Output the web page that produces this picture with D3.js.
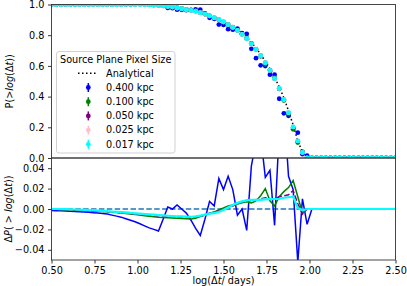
<!DOCTYPE html>
<html><head><meta charset="utf-8">
<script src="https://cdn.jsdelivr.net/npm/d3@7"></script>
<style>
html,body{margin:0;padding:0;background:#fff;}
svg{display:block;font-family:"DejaVu Sans",sans-serif;}
</style></head>
<body>
<svg id="chart" width="407" height="286"></svg>
<script>
// log(Δt/days) bin centres
const xs = [0.500,0.527,0.554,0.581,0.608,0.635,0.662,0.689,0.716,0.743,0.770,0.797,0.824,0.851,0.878,0.905,0.932,0.959,0.986,1.014,
1.041,1.068,1.095,1.122,1.149,1.176,1.203,1.230,1.257,1.284,1.311,1.338,1.365,1.392,1.419,1.446,1.473,1.500,1.527,1.554,
1.581,1.608,1.635,1.662,1.689,1.716,1.743,1.770,1.797,1.824,1.851,1.878,1.905,1.932,1.959,1.986,2.014,2.041,2.068,2.095,
2.122,2.149,2.176,2.203,2.230,2.257,2.284,2.311,2.338,2.365,2.392,2.419,2.446,2.473,2.500];

// Analytical P(>log Δt)
const analytical = [1.000,1.000,0.9999,0.9998,0.9997,0.9995,0.9994,0.9992,0.999,0.9988,
0.9985,0.9982,0.9979,0.9975,0.9972,0.997,0.9966,0.9962,0.9958,0.9954,
0.995,0.993,0.990,0.988,0.985,0.980,0.976,0.970,0.965,0.959,
0.954,0.949,0.940,0.932,0.921,0.910,0.899,0.886,0.871,0.855,
0.837,0.813,0.787,0.753,0.717,0.676,0.630,0.581,0.527,0.463,
0.392,0.307,0.215,0.113,0.035,0,0,0,0,0,
0,0,0,0,0,0,0,0,0,0,0,0,0,0,0];

// ΔP = analytical − measured, per source-plane pixel size
const dP_400 = [-0.0015,-0.0016,-0.0018,-0.002,-0.0022,-0.0025,-0.0028,-0.003,-0.0033,-0.0037,
-0.004,-0.0045,-0.005,-0.006,-0.007,-0.008,-0.0095,-0.011,-0.0125,-0.0145,
-0.0165,-0.0185,-0.020,-0.0216,-0.010,0.002,0.000,0.004,0.000,-0.004,
-0.011,-0.019,-0.026,-0.010,0.0075,0.003,0.030,0.019,0.032,0.019,
-0.006,0.000,-0.021,0.042,0.067,0.072,0.031,0.038,-0.016,0.077,
0.101,0.032,0.019,-0.052,0.010,-0.015,0,0,0,0,
0,0,0,0,0,0,0,0,0,0,0,0,0,0,0];
const dP_100 = [0,-0.0003,-0.0005,-0.0007,-0.001,-0.0012,-0.0014,-0.0016,-0.0018,-0.002,
-0.0022,-0.0025,-0.0028,-0.0031,-0.0035,-0.004,-0.0045,-0.005,-0.0055,-0.006,
-0.0065,-0.007,-0.0075,-0.008,-0.0083,-0.0085,-0.0088,-0.009,-0.0093,-0.0095,
-0.0098,-0.009,-0.0075,-0.006,-0.0045,-0.003,-0.001,0.001,0.003,0.004,
0.005,0.006,0.007,0.006,0.008,0.013,0.020,0.008,0.003,0.012,
0.017,0.021,0.028,0.012,-0.004,0,0,0,0,0,
0,0,0,0,0,0,0,0,0,0,0,0,0,0,0];
const dP_050 = [0,-0.0002,-0.0004,-0.0006,-0.0008,-0.001,-0.0012,-0.0014,-0.0016,-0.0018,
-0.002,-0.0023,-0.0026,-0.003,-0.0033,-0.0037,-0.0041,-0.0045,-0.005,-0.0055,
-0.0058,-0.006,-0.0063,-0.0066,-0.007,-0.0072,-0.0074,-0.0076,-0.0078,-0.008,
-0.0083,-0.008,-0.007,-0.006,-0.004,-0.003,-0.002,0.000,0.002,0.003,
0.005,0.007,0.0085,0.008,0.009,0.010,0.011,0.010,0.010,0.012,
0.013,0.014,0.018,0.005,-0.005,0,0,0,0,0,
0,0,0,0,0,0,0,0,0,0,0,0,0,0,0];
const dP_025 = [0,0,-0.0002,-0.0003,-0.0004,-0.0006,-0.0007,-0.0009,-0.0011,-0.0013,
-0.0016,-0.0019,-0.0022,-0.0026,-0.0029,-0.0032,-0.0036,-0.004,-0.0044,-0.0048,
-0.0052,-0.0055,-0.0058,-0.0061,-0.0064,-0.0067,-0.007,-0.0072,-0.0074,-0.0076,
-0.0077,-0.0073,-0.0066,-0.0056,-0.0046,-0.004,-0.0028,-0.0008,0.0017,0.0042,
0.0062,0.0077,0.0087,0.0091,0.0092,0.0093,0.0098,0.0099,0.0099,0.0102,
0.0112,0.0118,0.0125,0.0015,-0.0015,0,0,0,0,0,
0,0,0,0,0,0,0,0,0,0,0,0,0,0,0];
const dP_017 = [0,0,-0.0001,-0.0002,-0.0003,-0.0005,-0.0006,-0.0008,-0.001,-0.0012,
-0.0015,-0.0018,-0.0021,-0.0025,-0.0028,-0.003,-0.0034,-0.0038,-0.0042,-0.0046,
-0.005,-0.0053,-0.0056,-0.006,-0.0063,-0.0066,-0.0069,-0.0071,-0.0073,-0.0075,
-0.0076,-0.0072,-0.0065,-0.0055,-0.0045,-0.004,-0.003,-0.001,0.0015,0.004,
0.006,0.0075,0.0085,0.009,0.009,0.009,0.0095,0.0097,0.0098,0.010,
0.011,0.0115,0.012,0.001,-0.001,0,0,0,0,0,
0,0,0,0,0,0,0,0,0,0,0,0,0,0,0];

const seriesNames = ["0.400 kpc","0.100 kpc","0.050 kpc","0.025 kpc","0.017 kpc"];
const seriesColors = ["#0000ff","#008000","#800080","#ffc0cb","#00ffff"];
const seriesDash = [null,null,"5.5,2.4","5.5,2.4",null];
const seriesWidth = [1.5,1.5,1.5,1.5,2.2];
const seriesDP = [dP_400,dP_100,dP_050,dP_025,dP_017];

const xTicks = [0.50,0.75,1.00,1.25,1.50,1.75,2.00,2.25,2.50];
const yTopTicks = [0.0,0.2,0.4,0.6,0.8,1.0];
const yBotTicks = [-0.04,-0.02,0.00,0.02,0.04];

const svg = d3.select("#chart");
const L=51.5, R=395.5, T1=4.5, B1=158, T2=158, B2=260;
const x = d3.scaleLinear().domain([0.5,2.5]).range([L,R]);
const yT = d3.scaleLinear().domain([0,1]).range([B1,T1]);
const yB = d3.scaleLinear().domain([-0.05,0.05]).range([B2,T2]);
const fmtMinus = s => s.replace("-","\u2212");

const defs = svg.append("defs");
defs.append("clipPath").attr("id","cTop").append("rect").attr("x",L).attr("y",T1).attr("width",R-L).attr("height",B1-T1);
defs.append("clipPath").attr("id","cBot").append("rect").attr("x",L).attr("y",T2).attr("width",R-L).attr("height",B2-T2);

// ---------- top panel ----------
const gT = svg.append("g").attr("clip-path","url(#cTop)");
const pts = xs.map((v,i)=>({x:v,a:analytical[i]}));
gT.append("path").datum(pts)
  .attr("d", d3.line().x(d=>x(d.x)).y(d=>yT(d.a)))
  .attr("fill","none").attr("stroke","#000").attr("stroke-width",1.5).attr("stroke-dasharray","1.5,2.5");
seriesDP.forEach((dp,k)=>{
  gT.append("g").selectAll("circle").data(xs.map((v,i)=>({x:v,p:analytical[i]-dp[i]})))
    .join("circle").attr("cx",d=>x(d.x)).attr("cy",d=>yT(d.p)).attr("r",2.4)
    .attr("fill",seriesColors[k]);
});

// ---------- bottom panel ----------
const gB = svg.append("g").attr("clip-path","url(#cBot)");
gB.append("line").attr("x1",L).attr("x2",R).attr("y1",yB(0)).attr("y2",yB(0))
  .attr("stroke","#1f77b4").attr("stroke-width",1.5).attr("stroke-dasharray","5.5,2.4");
seriesDP.forEach((dp,k)=>{
  const p = gB.append("path").datum(xs.map((v,i)=>({x:v,d:dp[i]})))
    .attr("d", d3.line().x(d=>x(d.x)).y(d=>yB(d.d)))
    .attr("fill","none").attr("stroke",seriesColors[k]).attr("stroke-width",seriesWidth[k])
    .attr("stroke-linejoin","miter");
  if(seriesDash[k]) p.attr("stroke-dasharray",seriesDash[k]);
});

// ---------- axes ----------
const axStyle = g => {
  g.selectAll(".domain").remove();
  g.selectAll(".tick line").attr("stroke","#000").attr("stroke-width",0.8);
  g.selectAll(".tick text").attr("fill","#000").style("font-size","9.7px").style("font-family","'DejaVu Sans',sans-serif");
};
svg.append("g").attr("transform",`translate(0,${B2})`)
  .call(d3.axisBottom(x).tickValues(xTicks).tickFormat(d3.format(".2f")).tickSize(3.5).tickPadding(3.5))
  .call(axStyle);
svg.append("g").attr("transform",`translate(${L},0)`)
  .call(d3.axisLeft(yT).tickValues(yTopTicks).tickFormat(d3.format(".1f")).tickSize(3.5).tickPadding(3.5))
  .call(axStyle);
svg.append("g").attr("transform",`translate(${L},0)`)
  .call(d3.axisLeft(yB).tickValues(yBotTicks).tickFormat(d=>fmtMinus(d3.format(".2f")(d))).tickSize(3.5).tickPadding(3.5))
  .call(axStyle);

// spines
const sp = svg.append("g").attr("fill","none").attr("stroke","#333").attr("stroke-width",0.9);
sp.append("rect").attr("x",L).attr("y",T1).attr("width",R-L).attr("height",B1-T1);
sp.append("rect").attr("x",L).attr("y",T2).attr("width",R-L).attr("height",B2-T2);

// axis labels
const fs = "9.7px";
const lab1 = svg.append("text").attr("transform",`translate(9,${(T1+B1)/2}) rotate(-90)`)
  .attr("text-anchor","middle").attr("dominant-baseline","central").style("font-size",fs);
lab1.append("tspan").text("P(>");
lab1.append("tspan").attr("font-style","italic").text("log");
lab1.append("tspan").text("(\u0394");
lab1.append("tspan").attr("font-style","italic").text("t");
lab1.append("tspan").text("))");

const lab2 = svg.append("text").attr("transform",`translate(8,${(T2+B2)/2}) rotate(-90)`)
  .attr("text-anchor","middle").attr("dominant-baseline","central").style("font-size",fs);
lab2.append("tspan").text("\u0394");
lab2.append("tspan").attr("font-style","italic").text("P");
lab2.append("tspan").text("( > ");
lab2.append("tspan").attr("font-style","italic").text("log");
lab2.append("tspan").text("(\u0394");
lab2.append("tspan").attr("font-style","italic").text("t");
lab2.append("tspan").text("))");

const lab3 = svg.append("text").attr("x",(L+R)/2).attr("y",283.5).attr("text-anchor","middle").style("font-size",fs);
lab3.append("tspan").text("log(\u0394");
lab3.append("tspan").attr("font-style","italic").text("t");
lab3.append("tspan").text("/ days)");

// ---------- legend ----------
const lg = svg.append("g");
lg.append("rect").attr("x",56.5).attr("y",51.5).attr("width",118.5).attr("height",101.5).attr("rx",2.5)
  .attr("fill","#fff").attr("fill-opacity",0.8).attr("stroke","#cccccc").attr("stroke-width",0.9);
lg.append("text").attr("x",115.7).attr("y",62.8).attr("text-anchor","middle").style("font-size",fs).text("Source Plane Pixel Size");
const rowY = i => 76.6 + i*14.2;
lg.append("line").attr("x1",78).attr("x2",97.5).attr("y1",rowY(0)-3.3).attr("y2",rowY(0)-3.3)
  .attr("stroke","#000").attr("stroke-width",1.5).attr("stroke-dasharray","1.5,2.5");
lg.append("text").attr("x",106).attr("y",rowY(0)).style("font-size",fs).text("Analytical");
seriesNames.forEach((n,k)=>{
  const cy = rowY(k+1)-3.3;
  lg.append("line").attr("x1",88.3).attr("x2",88.3).attr("y1",cy-4.5).attr("y2",cy+4.5)
    .attr("stroke",seriesColors[k]).attr("stroke-width",1.5);
  lg.append("circle").attr("cx",88.3).attr("cy",cy).attr("r",2.4).attr("fill",seriesColors[k]);
  lg.append("text").attr("x",106).attr("y",rowY(k+1)).style("font-size",fs).text(n);
});
</script>
</body></html>
